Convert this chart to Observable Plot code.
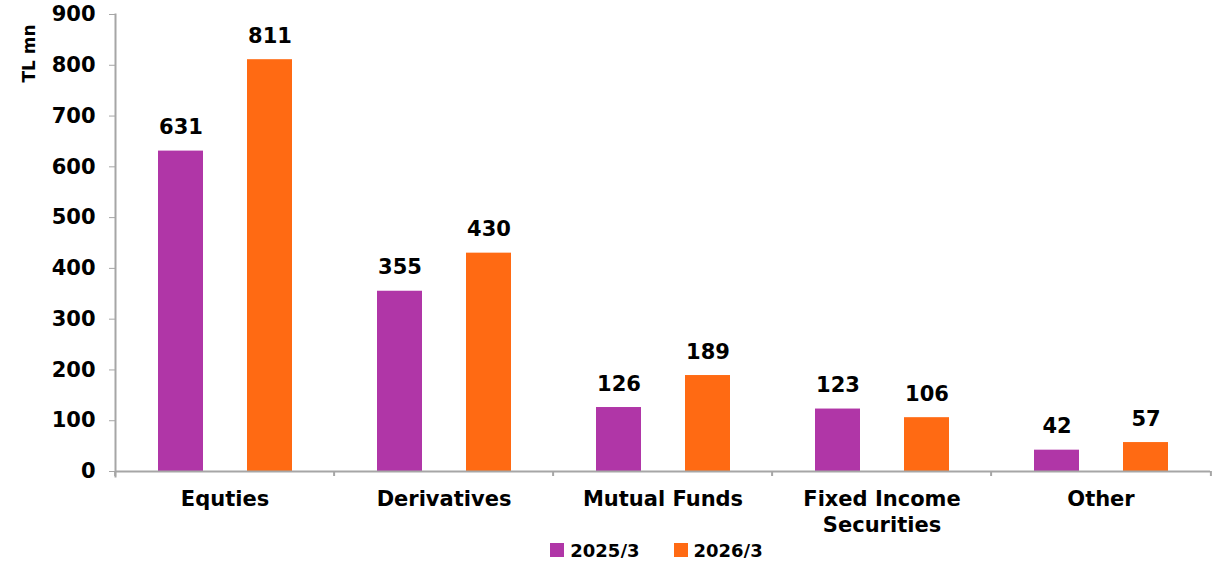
<!DOCTYPE html>
<html><head><meta charset="utf-8">
<script src="https://cdn.jsdelivr.net/npm/d3@7"></script>
<script src="https://cdn.jsdelivr.net/npm/@observablehq/plot@0.6"></script>
<style>
body{margin:0;background:#fff;font-family:"DejaVu Sans",Verdana,sans-serif;}
#chart svg{display:block;overflow:visible}
#legend{display:flex;justify-content:center;align-items:center;gap:34px;padding-left:101px;padding-right:4px;height:16px;font-weight:bold;font-size:18px;color:#000;}
.item{display:flex;align-items:center;gap:6px}
.sw{width:14px;height:14px;display:inline-block}
</style></head><body><div id="chart"></div><div id="legend"></div><script>
const categories = ["Equties","Derivatives","Mutual Funds","Fixed Income Securities","Other"];
const categoryLabels = ["Equties","Derivatives","Mutual Funds","Fixed Income\nSecurities","Other"];
const series = ["2025/3","2026/3"];
const values2025 = [631,355,126,123,42];
const values2026 = [811,430,189,106,57];
const colors = ["#B036A7","#FF6A13"];
const yTicks = [0,100,200,300,400,500,600,700,800,900];
const yLabel = "TL mn";

const W = 1216, H = 542, ML = 113, MR = 4, MT = 14, MB = 71;
const step = (W - ML - MR) / categories.length;
const seriesValues = [values2025, values2026];
const data = categories.flatMap((c, i) => series.map((s, j) => ({category: c, series: s, value: seriesValues[j][i]})));
const axisGray = "#a6a6a6";
const fs = 21;

const chart = Plot.plot({
  width: W, height: H, marginLeft: ML, marginRight: MR, marginTop: MT, marginBottom: MB,
  style: {fontFamily: "DejaVu Sans, Verdana, sans-serif", fontWeight: "bold", fontSize: fs + "px", color: "#000", background: "#fff"},
  fx: {domain: categories, padding: 0, axis: null, label: null},
  x: {domain: series, paddingInner: 0.5, paddingOuter: 0.472, axis: null},
  y: {domain: [0, 900], axis: null},
  color: {domain: series, range: colors},
  marks: [
    Plot.barY(data, {fx: "category", x: "series", y: "value", fill: "series"}),
    Plot.ruleY([0], {stroke: axisGray, strokeWidth: 2}),
    Plot.frame({anchor: "left", facetAnchor: "left", stroke: axisGray, strokeWidth: 2, insetBottom: -5}),
    Plot.axisY({ticks: yTicks, tickSize: 6, tickPadding: 14, stroke: axisGray, fill: "#000", label: null, fontSize: fs, fontWeight: "bold", facetAnchor: "left"}),
    Plot.axisFx({anchor: "bottom", tickSize: 0, tickPadding: 16, tickFormat: c => categoryLabels[categories.indexOf(c)], lineHeight: 1.25, label: null, fontSize: fs, fontWeight: "bold", fill: "#000"}),
    Plot.axisFx({anchor: "bottom", tickSize: 5, tickFormat: () => "", label: null, stroke: axisGray, strokeWidth: 2, dx: -step / 2}),
    Plot.axisFx({anchor: "bottom", ticks: [categories[categories.length - 1]], tickSize: 5, tickFormat: () => "", label: null, stroke: axisGray, strokeWidth: 2, dx: step / 2}),
    Plot.text(data, {fx: "category", x: "series", y: "value", text: d => String(d.value), lineAnchor: "bottom", dy: -17, fontSize: fs, fontWeight: "bold", fill: "#000"}),
    Plot.text([yLabel], {text: d => d, frameAnchor: "top-left", facetAnchor: "left", rotate: -90, textAnchor: "middle", lineAnchor: "middle", dx: -86, dy: 39, fontSize: 17, fontWeight: "bold", fill: "#000"})
  ]
});
document.getElementById("chart").append(chart);

const legend = document.getElementById("legend");
series.forEach((s, i) => {
  const item = document.createElement("div");
  item.className = "item";
  const sw = document.createElement("span");
  sw.className = "sw";
  sw.style.background = colors[i];
  const t = document.createElement("span");
  t.textContent = s;
  item.append(sw, t);
  legend.append(item);
});
</script></body></html>
